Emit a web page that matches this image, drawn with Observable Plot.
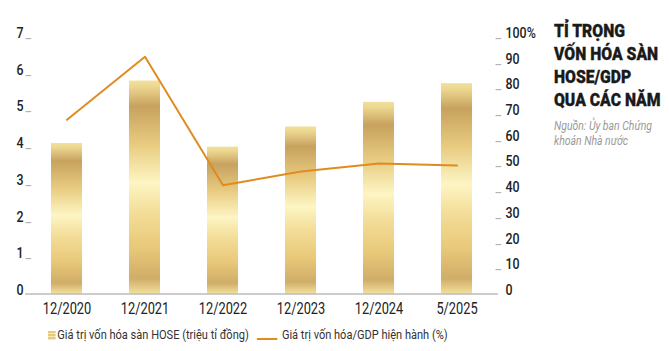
<!DOCTYPE html>
<html>
<head>
<meta charset="utf-8">
<script src="https://cdn.jsdelivr.net/npm/d3@7"></script>
<script src="https://cdn.jsdelivr.net/npm/@observablehq/plot@0.6"></script>
<style>
  html, body { margin: 0; padding: 0; background: #fff; }
  #wrap { position: relative; width: 669px; height: 351px; font-family: Roboto, sans-serif; color: #222; overflow: hidden; }
  #title { position: absolute; left: 554px; top: 20px; font-weight: 900; font-size: 17.5px; line-height: 23px; color: #1a1a1a; white-space: nowrap; transform-origin: 0 0; -webkit-text-stroke: 0.3px #1a1a1a; }
  #source { position: absolute; left: 554px; top: 118px; font-style: italic; font-size: 13px; line-height: 15px; color: #9a9a9a; white-space: nowrap; transform-origin: 0 0; }
  #legend { position: absolute; left: 48px; top: 327px; font-size: 13px; line-height: 16px; color: #333; display: flex; align-items: center; white-space: nowrap; transform-origin: 0 0; }
  .sw-bar { display: inline-block; width: 9px; height: 9px; margin-right: 2px; background: repeating-linear-gradient(#e6ca7e 0 2px, #f7ebb3 2px 3px); }
  .sw-line { display: inline-block; width: 24px; height: 10px; border-bottom: 2px solid #e08b20; margin: 0 5px 0 10px; box-sizing: border-box; }
</style>
</head>
<body>
<div id="wrap">
  <div id="chart"></div>
  <div id="title">TỈ TRỌNG<br>VỐN HÓA SÀN<br>HOSE/GDP<br>QUA CÁC NĂM</div>
  <div id="source">Nguồn: Ủy ban Chứng<br>khoán Nhà nước</div>
  <div id="legend"><span class="sw-bar"></span><span>Giá trị vốn hóa sàn HOSE (triệu tỉ đồng)</span><span class="sw-line"></span><span>Giá trị vốn hóa/GDP hiện hành (%)</span></div>
</div>
<script>
const periods = ["12/2020", "12/2021", "12/2022", "12/2023", "12/2024", "5/2025"];
const capValues = [4.1, 5.8, 4.0, 4.55, 5.22, 5.73];      // triệu tỉ đồng
const gdpRatio = [67.8, 92.3, 42.3, 47.7, 50.8, 50.0];     // %
const leftTicks = [0, 1, 2, 3, 4, 5, 6, 7];
const rightTicks = [0, 10, 20, 30, 40, 50, 60, 70, 80, 90, 100];

const leftMax = 7, rightMax = 100;
const k = leftMax / rightMax;

const data = periods.map((p, i) => ({period: p, cap: capValues[i], pct: gdpRatio[i]}));
const leftMarks = leftTicks.filter(d => d !== 0);
const rightMarks = rightTicks.filter(d => d !== 0).map(v => v * k);

const chart = Plot.plot({
  width: 669,
  height: 322,
  marginLeft: 25,
  marginRight: 171,
  marginTop: 36.5,
  marginBottom: 28.5,
  style: {fontFamily: "Roboto, sans-serif", background: "#fff", color: "#222"},
  x: {domain: periods, paddingInner: 0.6, paddingOuter: 0.3, label: null},
  y: {domain: [0, leftMax], label: null},
  marks: [
    Plot.barY(data, {x: "period", y: "cap", fill: "url(#gold)"}),
    Plot.ruleY([0], {stroke: "#9a9a9a", strokeWidth: 1}),
    Plot.line(data, {x: "period", y: d => d.pct * k, stroke: "#e08b20", strokeWidth: 2}),
    Plot.axisX({tickSize: 0, tickPadding: 9, fontSize: 16, fill: "#222", label: null}),
    Plot.axisY({anchor: "left", ticks: leftTicks, tickFormat: d => String(d), tickSize: 0, tickPadding: 2, dy: -4, fontSize: 15.5, fontWeight: 500, fill: "#222", label: null}),
    Plot.text(leftMarks, {y: d => d, text: () => "_", frameAnchor: "left", textAnchor: "start", dx: 0, dy: -4, fontSize: 15.5, fill: "#b0b0b0"}),
    Plot.axisY({anchor: "right", ticks: rightTicks.map(v => v * k), tickSize: 0, tickPadding: 7, dy: -4, fontSize: 15.5, fontWeight: 500, fill: "#222", label: null,
      tickFormat: d => { const v = Math.round(d / k); return v + (v === rightMax ? "%" : ""); }}),
    Plot.text(rightMarks, {y: d => d, text: () => "_", frameAnchor: "right", textAnchor: "start", dx: -3, dy: -4, fontSize: 15.5, fill: "#b0b0b0"})
  ]
});

const svgNode = chart.tagName.toLowerCase() === "svg" ? chart : chart.querySelector("svg");
const svg = d3.select(svgNode);
const defs = svg.insert("defs", ":first-child");
const grad = defs.append("linearGradient").attr("id", "gold").attr("x1", 0).attr("y1", 0).attr("x2", 0).attr("y2", 1);
[[0, "#f1e19c"], [0.03, "#ecd690"], [0.12, "#c7a25e"], [0.3, "#e8cb80"], [0.48, "#fdf5c3"], [0.62, "#f3dd98"], [0.78, "#e9c97a"], [0.93, "#d0ad68"], [1, "#f1e09c"]]
  .forEach(([o, c]) => grad.append("stop").attr("offset", o).attr("stop-color", c));

document.getElementById("chart").appendChild(chart);

// condense the text horizontally, like the narrow typeface of the original
svg.selectAll("text").each(function() {
  const w = this.getComputedTextLength();
  if (w > 0) { this.setAttribute("textLength", (w * 0.8).toFixed(2)); this.setAttribute("lengthAdjust", "spacingAndGlyphs"); }
});
function fitWidth(id, target) {
  const el = document.getElementById(id);
  const w = el.scrollWidth;
  el.style.transform = `scaleX(${target / w})`;
}
fitWidth("title", 107);
fitWidth("source", 98);
fitWidth("legend", 400);
</script>
</body>
</html>
